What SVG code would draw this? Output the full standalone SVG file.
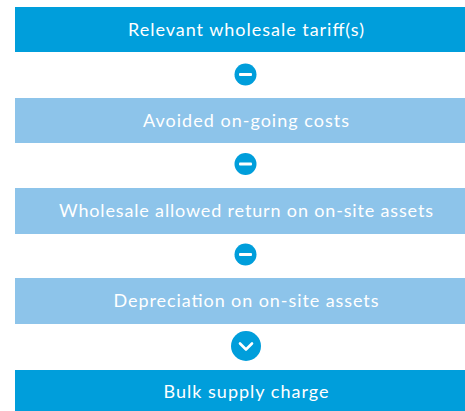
<svg xmlns="http://www.w3.org/2000/svg" width="465" height="411" viewBox="0 0 465 411">
<style>
.dark{fill:#009edb}
.light{fill:#8dc4ea}
.t{font-family:Lato,"Noto Sans","Liberation Sans",sans-serif;font-size:18px;fill:#ffffff;text-anchor:middle}
.op{fill:#009edb}
.bar{fill:#ffffff}
.chev{fill:none;stroke:#ffffff;stroke-width:2.6;stroke-linecap:round;stroke-linejoin:round}
</style>
<rect width="465" height="411" fill="#ffffff"/>
<g id="tariff"><rect class="dark" x="15" y="7" width="450" height="45"/><text class="t" x="246" y="36" textLength="236" lengthAdjust="spacing">Relevant wholesale tariff(s)</text></g>
<g id="avoided"><rect class="light" x="15" y="98" width="450" height="45"/><text class="t" x="246" y="127" textLength="206" lengthAdjust="spacing">Avoided on-going costs</text></g>
<g id="return"><rect class="light" x="15" y="188" width="450" height="46"/><text class="t" x="246" y="217" textLength="374" lengthAdjust="spacing">Wholesale allowed return on on-site assets</text></g>
<g id="depreciation"><rect class="light" x="15" y="278" width="450" height="46"/><text class="t" x="246" y="307" textLength="265" lengthAdjust="spacing">Depreciation on on-site assets</text></g>
<g id="bulk"><rect class="dark" x="15" y="370" width="450" height="41"/><text class="t" x="246" y="398" textLength="165" lengthAdjust="spacing">Bulk supply charge</text></g>
<g id="connectors">
<g><circle class="op" cx="245.5" cy="74.5" r="11"/><rect class="bar" x="239" y="73" width="13" height="3" rx="1"/></g>
<g><circle class="op" cx="245.5" cy="164" r="11"/><rect class="bar" x="239" y="162.5" width="13" height="3" rx="1"/></g>
<g><circle class="op" cx="245.5" cy="254.5" r="11"/><rect class="bar" x="239" y="253" width="13" height="3" rx="1"/></g>
<g><circle class="op" cx="246" cy="346" r="15"/><polyline class="chev" points="240,343.5 246,349.5 252,343.5"/></g>
</g>
</svg>
